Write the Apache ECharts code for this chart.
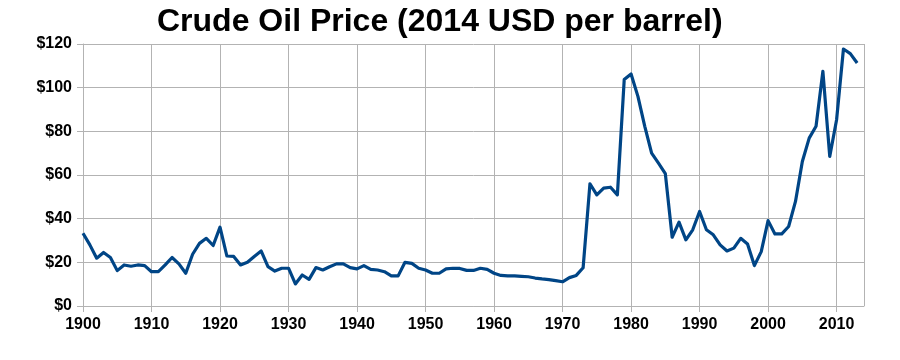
<!DOCTYPE html>
<html><head><meta charset="utf-8">
<script src="https://cdn.jsdelivr.net/npm/echarts@6/dist/echarts.min.js"></script>
<style>html,body{margin:0;padding:0;background:#fff}#c{width:900px;height:360px}</style>
</head><body><div id="c"></div>
<script>
const startYear = 1900;
const prices = [
  33.3, 28, 21.9, 24.5, 22.2, 16.2, 18.8, 18.2, 18.8, 18.5,
  15.7, 15.7, 18.8, 22.2, 19.3, 15, 23.7, 28.7, 31, 27.7,
  36.1, 22.9, 22.7, 18.8, 20, 22.7, 25.2, 18, 16, 17.3,
  17.3, 10.1, 14.2, 12.2, 17.6, 16.5, 18, 19.3, 19.3, 17.6,
  17, 18.5, 16.8, 16.5, 15.7, 13.8, 13.8, 20, 19.5, 17.3,
  16.5, 15, 15, 17, 17.3, 17.2, 16.3, 16.3, 17.3, 16.8,
  15, 14, 13.8, 13.8, 13.6, 13.4, 12.8, 12.4, 12.1, 11.6,
  11.1, 13, 14, 17.5, 56, 50.9, 54, 54.4, 50.9, 103.7,
  106.3, 96, 82.3, 70, 65.4, 60.6, 31.5, 38.4, 30.3, 34.9,
  43.3, 34.9, 32.6, 28, 25.2, 26.5, 31, 28.4, 18.5, 24.9,
  39.1, 33, 33, 36.4, 47.9, 66.2, 76.9, 82.3, 107.5, 68.5,
  85.3, 117.7, 115.6, 111.3
];
const title = 'Crude Oil Price (2014 USD per barrel)';
const yTicks = [0, 20, 40, 60, 80, 100, 120];
const xTicks = [1900, 1910, 1920, 1930, 1940, 1950, 1960, 1970, 1980, 1990, 2000, 2010];

const seriesData = prices.map((v, i) => [startYear + i, v]);
const chart = echarts.init(document.getElementById('c'), null, {renderer: 'canvas'});
const gridColor = '#b3b3b3';
chart.setOption({
  animation: false,
  backgroundColor: '#ffffff',
  title: {
    text: title, left: 152, top: 1,
    textStyle: {fontFamily: 'Liberation Sans', fontWeight: 'bold', fontSize: 32, color: '#000'}
  },
  grid: {left: 83, right: 36, top: 44, bottom: 54, containLabel: false},
  xAxis: {
    type: 'value', min: 1900, max: 2014, interval: 10,
    axisLine: {show: true, lineStyle: {color: gridColor, width: 1}},
    axisTick: {show: true, length: 6, lineStyle: {color: gridColor}},
    splitLine: {show: true, lineStyle: {color: gridColor, width: 1}},
    axisLabel: {
      fontFamily: 'Liberation Sans', fontWeight: 'bold', fontSize: 16, color: '#000', margin: 11,
      showMaxLabel: false,
      formatter: v => xTicks.includes(v) ? String(v) : ''
    }
  },
  yAxis: {
    type: 'value', min: 0, max: 120, interval: 20,
    axisLine: {show: true, lineStyle: {color: gridColor, width: 1}},
    axisTick: {show: true, length: 6, lineStyle: {color: gridColor}},
    splitLine: {show: true, lineStyle: {color: gridColor, width: 1}},
    axisLabel: {
      fontFamily: 'Liberation Sans', fontWeight: 'bold', fontSize: 16, color: '#000', margin: 11,
      formatter: v => yTicks.includes(v) ? '$' + v : ''
    }
  },
  series: [{
    type: 'line', data: seriesData, showSymbol: false, symbol: 'none',
    lineStyle: {color: '#004586', width: 3.2, join: 'round'},
    itemStyle: {color: '#004586'}
  }]
});
</script></body></html>
